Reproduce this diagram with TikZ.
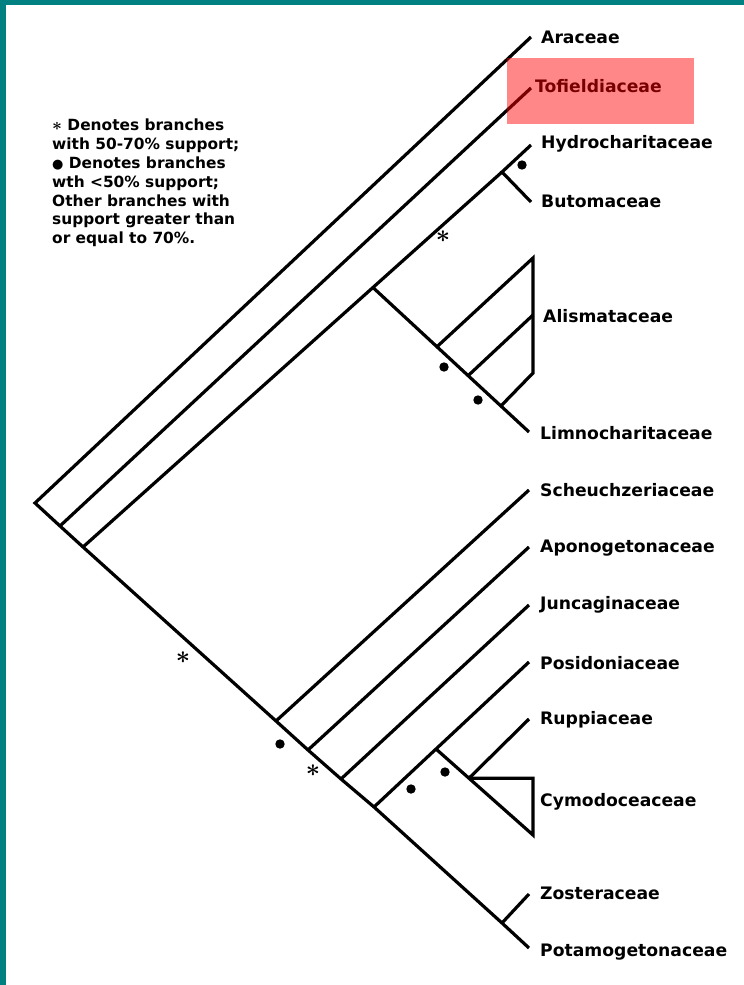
\documentclass[tikz,border=0pt]{standalone}
\usepackage{fontspec}
\setmainfont{DejaVu Sans}
\usetikzlibrary{calc}
\definecolor{frameteal}{RGB}{0,128,128}
\begin{document}
\begin{tikzpicture}[x=1pt,y=-1pt,
    branch/.style={line width=3.2pt,line join=miter},
    taxon/.style={anchor=west,inner sep=0pt,font=\bfseries\fontsize{17.2}{18}\selectfont},
    lowdot/.style={fill=black},
    midstar/.style={inner sep=0pt,font=\boldmath\fontsize{25}{25}\selectfont}]
    % frame
    \fill[frameteal] (0,0) rectangle (744,985);
    \fill[white] (6,5) rectangle (744,985);
    \useasboundingbox (0,0) rectangle (744,985);
    % nodes on the trunk
    \coordinate (root) at (35,503);
    \coordinate (n2) at (60,526);
    \coordinate (n3) at (83,547);
    \coordinate (s1) at (276,721);
    \coordinate (s2) at (308,750);
    \coordinate (s3) at (341,779);
    \coordinate (pN) at (374,807);
    \coordinate (zN) at (502,923);
    % tips
    \coordinate (araT) at (531,37);
    \coordinate (tofT) at (531,88);
    \coordinate (hydT) at (531,145);
    \coordinate (butT) at (531,202);
    \coordinate (alTop) at (533,258);
    \coordinate (alMid) at (533,315);
    \coordinate (alBot) at (533,373);
    \coordinate (limT) at (529,432);
    \coordinate (schT) at (529,490);
    \coordinate (apoT) at (529,547);
    \coordinate (junT) at (529,605);
    \coordinate (posT) at (529,662);
    \coordinate (rupT) at (529,719);
    \coordinate (cyBot) at (533,835);
    \coordinate (zosT) at (529,894);
    \coordinate (potT) at (529,948);
    % inner clades
    \coordinate (hbN) at (502,172);
    \coordinate (alN) at ($(n3)!0.692!(hbN)$);
    \coordinate (a1) at ($(alN)!0.41!(limT)$);
    \coordinate (a2) at ($(alN)!0.61!(limT)$);
    \coordinate (a3) at ($(alN)!0.82!(limT)$);
    \coordinate (cN) at ($(pN)!0.40!(posT)$);
    \coordinate (rN) at ($(cN)!0.34!(cyBot)$);
    \coordinate (cyTop) at (rN -| cyBot);

    \draw[branch] (araT) -- (root) -- (n2) -- (n3) -- (s1) -- (s2) -- (s3) -- (pN) -- (zN) -- (potT);
    \draw[branch] (n2) -- (tofT);
    \draw[branch] (n3) -- (hbN);
    \draw[branch] (hydT) -- (hbN) -- (butT);
    \draw[branch] (alN) -- (limT);
    \draw[branch] (a1) -- (alTop) -- (alBot) -- (a3);
    \draw[branch] (a2) -- (alMid);
    \draw[branch] (s1) -- (schT);
    \draw[branch] (s2) -- (apoT);
    \draw[branch] (s3) -- (junT);
    \draw[branch] (pN) -- (posT);
    \draw[branch] (cN) -- (cyBot) -- (cyTop) -- (rN);
    \draw[branch] (rN) -- (rupT);
    \draw[branch] (zN) -- (zosT);

    % taxa
    \node[taxon] (ara) at (541,37) {Araceae};
    \node[taxon] (tof) at (535,86) {Tofieldiaceae};
    \node[taxon] (hyd) at (541,144) {Hydrocharitaceae};
    \node[taxon] (but) at (541,201) {Butomaceae};
    \node[taxon] (ali) at (543,316) {Alismataceae};
    \node[taxon] (lim) at (540,433) {Limnocharitaceae};
    \node[taxon] (sch) at (540,490) {Scheuchzeriaceae};
    \node[taxon] (apo) at (540,548) {Aponogetonaceae};
    \node[taxon] (jun) at (540,605) {Juncaginaceae};
    \node[taxon] (pos) at (540,663) {Posidoniaceae};
    \node[taxon] (rup) at (540,720) {Ruppiaceae};
    \node[taxon] (cym) at (540,802) {Cymodoceaceae};
    \node[taxon] (zos) at (540,893) {Zosteraceae};
    \node[taxon] (pot) at (540,952) {Potamogetonaceae};

    % support marks
    \node[midstar] (st1) at (443,237) {$\ast$};
    \node[midstar] (st2) at (183,658) {$\ast$};
    \node[midstar] (st3) at (313,771) {$\ast$};
    \fill[lowdot] (522,165) circle (4.7);
    \fill[lowdot] (444,367) circle (4.7);
    \fill[lowdot] (478,400) circle (4.7);
    \fill[lowdot] (280,744) circle (4.7);
    \fill[lowdot] (411,789) circle (4.7);
    \fill[lowdot] (445,772) circle (4.7);

    % legend
    \node[anchor=north west,inner sep=0pt,align=left,
        font=\bfseries\fontsize{15.4}{18.8}\selectfont] (legend) at (52,119)
        {{\boldmath\fontsize{19}{10}\selectfont$\ast$} Denotes branches\\with 50-70\% support;\\{\fontsize{13}{13}\selectfont ●} Denotes branches\\wth <50\% support;\\Other branches with\\support greater than\\or equal to 70\%.};

    % highlight
    \fill[red,opacity=0.47] (507,58) rectangle (694,124);
\end{tikzpicture}
\end{document}
